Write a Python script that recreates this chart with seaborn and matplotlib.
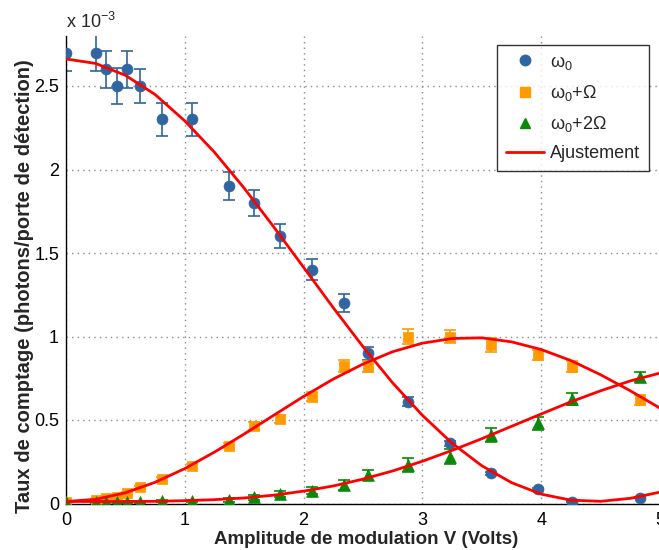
import matplotlib
matplotlib.use("Agg")
import matplotlib.pyplot as plt
from matplotlib.lines import Line2D
import seaborn as sns
import pandas as pd

# ---- data (rates in units of 1e-3 photons / detection gate) ----
volts = [0.0, 0.25, 0.34, 0.43, 0.51, 0.62, 0.81, 1.06, 1.37, 1.58,
         1.80, 2.07, 2.34, 2.54, 2.88, 3.23, 3.58, 3.97, 4.26, 4.83]

rate_w0 = [2.70, 2.70, 2.60, 2.50, 2.60, 2.50, 2.30, 2.30, 1.90, 1.80,
           1.60, 1.40, 1.20, 0.90, 0.61, 0.36, 0.18, 0.085, 0.01, 0.035]
err_w0 = [0.11, 0.11, 0.11, 0.11, 0.11, 0.10, 0.10, 0.10, 0.085, 0.08,
          0.072, 0.062, 0.054, 0.04, 0.027, 0.016, 0.008, 0.005, 0.004, 0.004]

rate_w1 = [0.01, 0.02, 0.03, 0.04, 0.06, 0.097, 0.147, 0.226, 0.346, 0.466,
           0.506, 0.64, 0.825, 0.82, 1.00, 1.00, 0.95, 0.89, 0.82, 0.62]
err_w1 = [0.006, 0.006, 0.006, 0.007, 0.008, 0.008, 0.01, 0.012, 0.015, 0.025,
          0.025, 0.028, 0.035, 0.035, 0.044, 0.04, 0.04, 0.03, 0.035, 0.03]

rate_w2 = [0.01, 0.01, 0.01, 0.01, 0.01, 0.01, 0.012, 0.014, 0.02, 0.037,
           0.057, 0.077, 0.11, 0.17, 0.23, 0.28, 0.41, 0.48, 0.625, 0.76]
err_w2 = [0.005, 0.005, 0.005, 0.005, 0.005, 0.005, 0.006, 0.006, 0.01, 0.015,
          0.02, 0.022, 0.03, 0.03, 0.04, 0.045, 0.04, 0.04, 0.035, 0.03]

fit_volts = [0.0, 0.25, 0.5, 0.75, 1.0, 1.25, 1.5, 1.75, 2.0, 2.25, 2.5,
             2.75, 3.0, 3.25, 3.5, 3.75, 4.0, 4.25, 4.5, 4.75, 5.0]
fit_w0 = [2.662, 2.635, 2.564, 2.449, 2.291, 2.103, 1.888, 1.655, 1.414, 1.172, 0.939,
          0.722, 0.528, 0.361, 0.226, 0.125, 0.056, 0.020, 0.013, 0.031, 0.068]
fit_w1 = [0.012, 0.025, 0.064, 0.127, 0.209, 0.308, 0.416, 0.529, 0.641, 0.745, 0.835,
          0.909, 0.960, 0.988, 0.992, 0.968, 0.922, 0.856, 0.771, 0.675, 0.571]
fit_w2 = [0.012, 0.012, 0.012, 0.013, 0.017, 0.023, 0.033, 0.050, 0.074, 0.105, 0.146,
          0.195, 0.253, 0.318, 0.388, 0.462, 0.536, 0.609, 0.675, 0.734, 0.781]

labels = [r"$\omega_0$", r"$\omega_0$+$\Omega$", r"$\omega_0$+2$\Omega$"]
fit_label = "Ajustement"
x_label = "Amplitude de modulation V (Volts)"
y_label = "Taux de comptage (photons/porte de détection)"
y_ticks = [0, 0.5, 1, 1.5, 2, 2.5]
y_ticklabels = ["0", "0.5", "1", "1.5", "2", "2.5"]
x_ticks = [0, 1, 2, 3, 4, 5]

# ---- style ----
sns.set_style("white")
plt.rcParams["font.family"] = ["Liberation Sans", "DejaVu Sans"]
plt.rcParams["mathtext.fontset"] = "custom"
plt.rcParams["mathtext.rm"] = "Liberation Sans"
plt.rcParams["mathtext.it"] = "Liberation Sans"

colors = ["#2F65A0", "#FF9A00", "#088A08"]
markers = ["o", "s", "^"]
msizes = [62, 44, 72]

fig = plt.figure(figsize=(6.59, 5.50), dpi=100)
ax = fig.add_axes([66 / 659, 1 - 503.5 / 550, 594 / 659, 467.6 / 550])

series = [(rate_w0, err_w0), (rate_w1, err_w1), (rate_w2, err_w2)]
handles = []
for (vals, errs), col, mk, ms, lab in zip(series, colors, markers, msizes, labels):
    ax.errorbar(volts, vals, yerr=errs, fmt="none", ecolor=col, elinewidth=1.2,
                capsize=4.5, capthick=1.2, zorder=2)
    df = pd.DataFrame({"V": volts, "rate": vals})
    sns.scatterplot(data=df, x="V", y="rate", ax=ax, color=col, marker=mk, s=ms,
                    edgecolor=col, linewidth=0.5, zorder=3, legend=False)
    handles.append(Line2D([], [], linestyle="none", marker=mk, color=col,
                          markersize=7.5 if mk != "s" else 6.5, label=lab))

for fit in (fit_w0, fit_w1, fit_w2):
    dff = pd.DataFrame({"V": fit_volts, "rate": fit})
    sns.lineplot(data=dff, x="V", y="rate", ax=ax, color="#FF0000", linewidth=2.0,
                 zorder=4, legend=False, sort=False)
handles.append(Line2D([], [], color="#FF0000", linewidth=2.0, label=fit_label))

ax.set_xlim(0, 5)
ax.set_ylim(0, 2.8)
ax.set_xticks(x_ticks)
ax.set_yticks(y_ticks)
ax.set_yticklabels(y_ticklabels)
ax.tick_params(axis="both", direction="in", length=5, width=1, labelsize=13,
               colors="black")
ax.tick_params(axis="x", pad=6)
ax.tick_params(axis="y", pad=5)
ax.grid(True, linestyle=(0, (1, 3)), color="#8A8A8A", linewidth=1.0)
for side in ("top", "right"):
    ax.spines[side].set_visible(False)
for side in ("left", "bottom"):
    ax.spines[side].set_color("black")
    ax.spines[side].set_linewidth(1.0)

ax.set_xlabel(x_label, fontsize=13.5, fontweight="bold", va="center")
ax.xaxis.set_label_coords(0.506, -0.076)
ax.set_ylabel(y_label, fontsize=14.5, fontweight="bold", va="center")
ax.yaxis.set_label_coords(-0.0706, 0.465)

fig.text(66 / 659, 1 - 22 / 550, r"x 10$^{-3}$", fontsize=13, ha="left", va="center")

leg = ax.legend(handles=handles, loc="upper right", bbox_to_anchor=(0.9815, 0.981),
                borderaxespad=0, fontsize=13, frameon=True, fancybox=False,
                edgecolor="black", handlelength=2.1, handletextpad=0.35,
                labelspacing=0.62, borderpad=0.5)
leg.get_frame().set_linewidth(1.0)

fig.savefig("out.png", dpi=100)
